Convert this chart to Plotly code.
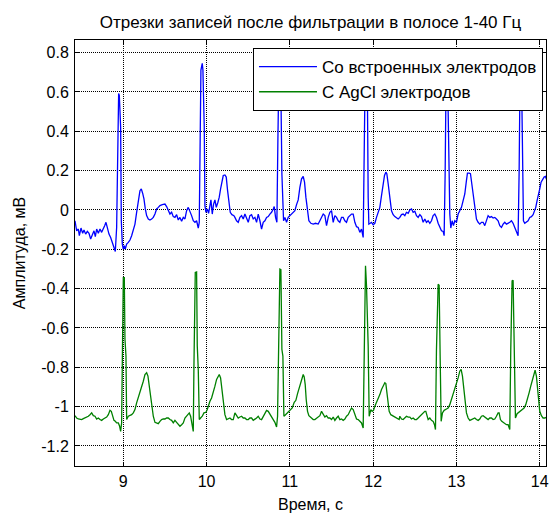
import plotly.graph_objects as go

# ---- data ----
time_blue = [
    8.42, 8.44, 8.46, 8.472, 8.492, 8.512, 8.528, 8.548, 8.568, 8.588, 8.608, 8.628, 8.648, 8.664, 8.68, 8.70,
    8.72, 8.74, 8.76, 8.776, 8.792, 8.808, 8.828, 8.848, 8.868, 8.888, 8.904, 8.92, 8.932, 8.944, 8.952, 8.96,
    8.968, 8.976, 8.988, 9.00, 9.012, 9.024, 9.04, 9.06, 9.08, 9.10, 9.12, 9.14, 9.16, 9.176, 9.188, 9.20,
    9.216, 9.232, 9.248, 9.264, 9.28, 9.30, 9.32, 9.34, 9.36, 9.38, 9.40, 9.42, 9.44, 9.468, 9.50, 9.52,
    9.54, 9.56, 9.58, 9.60, 9.62, 9.64, 9.66, 9.68, 9.70, 9.72, 9.74, 9.76, 9.78, 9.80, 9.82, 9.84,
    9.86, 9.88, 9.90, 9.912, 9.92, 9.932, 9.948, 9.956, 9.964, 9.972, 9.98, 9.992, 10.008, 10.024, 10.04, 10.052,
    10.068, 10.084, 10.10, 10.116, 10.136, 10.152, 10.168, 10.184, 10.20, 10.22, 10.236, 10.252, 10.268, 10.284, 10.304, 10.328,
    # beat 3
    10.34, 10.36, 10.38, 10.40, 10.42, 10.44, 10.46, 10.48, 10.50, 10.52, 10.54, 10.56, 10.58, 10.60, 10.62, 10.64,
    10.66, 10.68, 10.70, 10.72, 10.74, 10.76, 10.78, 10.80, 10.812, 10.828, 10.844, 10.856, 10.868, 10.884, 10.892, 10.904,
    10.916, 10.924, 10.94, 10.96, 10.98, 11.00, 11.02, 11.04, 11.06, 11.08, 11.10, 11.12, 11.14, 11.16, 11.176, 11.192,
    11.208, 11.228, 11.252, 11.28, 11.308, 11.34, 11.36, 11.38, 11.40, 11.42, 11.44, 11.46, 11.48, 11.50, 11.52, 11.54,
    11.56, 11.58, 11.60, 11.62, 11.64, 11.66, 11.68, 11.70, 11.72, 11.74, 11.76, 11.78, 11.80, 11.82, 11.84, 11.86,
    11.88, 11.892, 11.904, 11.92, 11.932, 11.94, 11.948, 11.964, 11.98, 12.00, 12.02, 12.04, 12.06, 12.08, 12.10, 12.12,
    12.136, 12.152, 12.164, 12.18, 12.20, 12.22, 12.24, 12.26, 12.30,
    # beat 5
    12.32, 12.34, 12.36, 12.38, 12.40, 12.42, 12.44, 12.46, 12.48, 12.50, 12.52, 12.54, 12.56, 12.58, 12.60, 12.62,
    12.64, 12.66, 12.68, 12.70, 12.72, 12.74, 12.76, 12.78, 12.80, 12.82, 12.84, 12.852, 12.864, 12.876, 12.892, 12.904,
    12.92, 12.932, 12.948, 12.964, 12.98, 13.00, 13.02, 13.04, 13.06, 13.08, 13.10, 13.12, 13.132, 13.152, 13.168, 13.184,
    13.20, 13.22, 13.24, 13.26, 13.28, 13.30, 13.32, 13.34, 13.36, 13.38, 13.40, 13.42, 13.44, 13.46, 13.48, 13.50,
    13.52, 13.54, 13.56, 13.58, 13.60, 13.62, 13.64, 13.66, 13.68, 13.70, 13.72, 13.74, 13.752, 13.764, 13.78, 13.792,
    13.804, 13.82, 13.84, 13.86, 13.88, 13.90, 13.92, 13.94, 13.952, 13.968, 13.984, 14.00, 14.016, 14.032, 14.052, 14.068,
    14.084, 14.096, 14.104,
]
amp_blue = [
    -0.055, -0.106, -0.097, -0.131, -0.092, -0.119, -0.102, -0.123, -0.109, -0.119, -0.148, -0.123, -0.106, -0.136, -0.097, -0.119,
    -0.097, -0.114, -0.089, -0.080, -0.063, -0.097, -0.123, -0.140, -0.165, -0.182, -0.211, -0.089, 0.439, 0.592, 0.583, 0.456,
    0.422, -0.055, -0.174, -0.199, -0.182, -0.199, -0.174, -0.165, -0.153, -0.131, -0.106, -0.072, -0.012, 0.022, 0.065, 0.098,
    0.107, 0.085, 0.056, 0.005, -0.029, -0.046, -0.051, -0.046, -0.038, -0.021, 0.005, 0.013, 0.022, 0.027, 0.030, 0.017,
    -0.004, -0.021, -0.012, -0.034, -0.038, -0.024, -0.051, -0.038, -0.058, -0.038, -0.046, -0.004, 0.013, -0.004, -0.029, -0.055,
    -0.063, -0.055, -0.092, -0.063, 0.184, 0.711, 0.745, 0.711, 0.558, 0.422, 0.022, -0.012, 0.005, -0.017, 0.022, 0.051,
    -0.021, 0.030, 0.051, 0.013, 0.039, 0.065, 0.107, 0.150, 0.175, 0.178, 0.167, 0.098, 0.022, -0.012, -0.024, -0.029,
    # beat 3
    -0.038, -0.055, -0.063, -0.038, -0.029, -0.046, -0.021, -0.038, -0.063, -0.029, -0.024, -0.046, -0.038, -0.063, -0.021, -0.055,
    -0.097, -0.063, -0.055, -0.038, -0.034, -0.021, -0.012, 0.005, 0.017, -0.038, -0.063, 0.354, 0.70, 0.71, 0.60, 0.184,
    0.013, -0.055, -0.038, -0.063, -0.038, -0.029, -0.021, -0.012, -0.004, 0.027, 0.051, 0.115, 0.158, 0.170, 0.141, 0.065,
    -0.004, -0.055, -0.068, -0.072, -0.068, -0.072, -0.055, -0.034, -0.021, -0.029, -0.080, -0.038, -0.012, -0.004, -0.063, -0.029,
    -0.038, -0.055, -0.063, -0.038, -0.038, -0.055, -0.063, -0.038, -0.029, -0.021, -0.021, -0.063, -0.085, -0.089, -0.114, -0.097,
    -0.140, 0.184, 0.70, 0.72, 0.52, 0.065, -0.072, -0.068, -0.063, -0.075, -0.068, -0.038, -0.012, 0.013, 0.073, 0.133,
    0.175, 0.192, 0.184, 0.133, 0.065, -0.004, -0.024, -0.034, -0.046,
    # beat 5
    -0.038, -0.024, -0.021, -0.029, -0.012, -0.017, 0.000, 0.005, -0.012, -0.007, -0.029, -0.038, -0.024, -0.034, -0.063, -0.046,
    -0.063, -0.055, -0.068, -0.055, -0.029, -0.021, -0.038, -0.068, -0.089, -0.106, -0.109, -0.131, 0.184, 0.70, 0.72, 0.354,
    -0.021, -0.092, -0.055, -0.080, -0.055, -0.063, -0.021, -0.004, 0.013, 0.047, 0.081, 0.150, 0.187, 0.187, 0.184, 0.133,
    0.073, 0.013, -0.046, -0.063, -0.072, -0.063, -0.063, -0.080, -0.055, -0.029, -0.038, -0.034, -0.041, -0.038, -0.046, -0.055,
    -0.080, -0.089, -0.072, -0.063, -0.072, -0.068, -0.063, -0.055, -0.068, -0.089, -0.106, -0.131, 0.184, 0.70, 0.72, 0.354,
    -0.055, -0.068, -0.063, -0.055, -0.038, -0.034, -0.024, -0.004, 0.013, 0.047, 0.073, 0.107, 0.141, 0.153, 0.167, 0.170,
    0.153, 0.098, 0.030,
]

time_green = [
    8.42, 8.44, 8.46, 8.48, 8.50, 8.52, 8.54, 8.56, 8.58, 8.60, 8.62, 8.64, 8.66, 8.68, 8.70, 8.72,
    8.74, 8.76, 8.78, 8.80, 8.82, 8.84, 8.856, 8.872, 8.888, 8.904, 8.92, 8.94, 8.956, 8.968, 8.98, 8.988,
    9.00, 9.012, 9.02, 9.032, 9.04, 9.06, 9.08, 9.10, 9.12, 9.14, 9.16, 9.18, 9.20, 9.22, 9.24, 9.26,
    9.28, 9.296, 9.312, 9.328, 9.344, 9.36, 9.38, 9.40, 9.42, 9.44, 9.46, 9.48, 9.50, 9.52, 9.54, 9.56,
    9.58, 9.60, 9.62, 9.64, 9.66, 9.68, 9.70, 9.72, 9.74, 9.76, 9.78, 9.792, 9.808, 9.82, 9.832, 9.84,
    9.848, 9.864, 9.88, 9.888, 9.90, 9.912, 9.928, 9.948, 9.968, 9.992, 10.008, 10.024, 10.04, 10.06, 10.08, 10.10,
    10.12, 10.14, 10.152, 10.168, 10.184, 10.20, 10.22, 10.24, 10.26, 10.28, 10.30, 10.32,
    # beats 3-4
    10.34, 10.36, 10.38, 10.40, 10.42, 10.44, 10.46, 10.48, 10.50, 10.52, 10.54, 10.56, 10.58, 10.60, 10.62, 10.64,
    10.66, 10.68, 10.70, 10.72, 10.74, 10.76, 10.78, 10.80, 10.82, 10.84, 10.852, 10.868, 10.88, 10.892, 10.904, 10.916,
    10.928, 10.948, 10.968, 10.988, 11.008, 11.028, 11.052, 11.072, 11.092, 11.112, 11.132, 11.148, 11.16, 11.172, 11.184, 11.196,
    11.212, 11.228, 11.244, 11.26, 11.28, 11.30, 11.32, 11.34, 11.36, 11.38, 11.40, 11.42, 11.44, 11.46, 11.48, 11.50,
    11.52, 11.54, 11.56, 11.58, 11.60, 11.62, 11.64, 11.66, 11.68, 11.70, 11.72, 11.74, 11.76, 11.78, 11.80, 11.82,
    11.84, 11.86, 11.88, 11.892, 11.908, 11.92, 11.94, 11.952, 11.972, 11.988, 12.004, 12.02, 12.04, 12.06, 12.08, 12.10,
    12.12, 12.14, 12.152, 12.164, 12.18, 12.192, 12.212, 12.232, 12.252, 12.272, 12.292, 12.312,
    # beats 5-6
    12.32, 12.34, 12.36, 12.38, 12.40, 12.42, 12.44, 12.46, 12.48, 12.50, 12.52, 12.54, 12.56, 12.58, 12.60, 12.62,
    12.632, 12.648, 12.66, 12.68, 12.70, 12.72, 12.736, 12.748, 12.76, 12.78, 12.792, 12.804, 12.816, 12.832, 12.852, 12.88,
    12.90, 12.92, 12.94, 12.96, 12.98, 13.00, 13.02, 13.04, 13.056, 13.072, 13.088, 13.104, 13.12, 13.14, 13.16, 13.18,
    13.20, 13.22, 13.24, 13.26, 13.28, 13.30, 13.32, 13.34, 13.36, 13.38, 13.40, 13.42, 13.44, 13.46, 13.48, 13.50,
    13.512, 13.528, 13.544, 13.56, 13.58, 13.60, 13.62, 13.64, 13.652, 13.668, 13.68, 13.696, 13.708, 13.728, 13.748, 13.768,
    13.792, 13.812, 13.832, 13.852, 13.872, 13.892, 13.912, 13.928, 13.944, 13.96, 13.972, 13.984, 14.00, 14.02, 14.04, 14.06,
    14.08, 14.104,
]
amp_green = [
    -1.046, -1.058, -1.063, -1.066, -1.066, -1.061, -1.058, -1.053, -1.049, -1.041, -1.032, -1.046, -1.049, -1.063, -1.058, -1.066,
    -1.070, -1.063, -1.058, -1.053, -1.041, -1.019, -1.024, -1.049, -1.070, -1.075, -1.083, -1.083, -1.100, -1.126, -1.083, -0.777,
    -0.344, -0.344, -0.658, -0.743, -1.066, -1.049, -1.046, -1.041, -1.032, -1.015, -0.981, -0.956, -0.922, -0.896, -0.871, -0.837,
    -0.828, -0.845, -0.896, -0.956, -1.007, -1.049, -1.080, -1.083, -1.087, -1.075, -1.066, -1.063, -1.063, -1.058, -1.058, -1.066,
    -1.070, -1.083, -1.070, -1.080, -1.092, -1.100, -1.092, -1.083, -1.058, -1.046, -1.036, -1.032, -1.049, -1.083, -1.092, -1.126,
    -0.794, -0.318, -0.315, -0.692, -0.811, -1.066, -1.058, -1.049, -1.032, -1.029, -1.015, -0.990, -0.973, -0.956, -0.930, -0.896,
    -0.862, -0.842, -0.837, -0.854, -0.913, -0.998, -1.041, -1.066, -1.063, -1.058, -1.066, -1.066,
    # beats 3-4
    -1.032, -1.046, -1.058, -1.053, -1.049, -1.058, -1.058, -1.066, -1.066, -1.058, -1.058, -1.070, -1.066, -1.058, -1.049, -1.063,
    -1.066, -1.049, -1.032, -1.019, -1.024, -1.036, -1.049, -1.066, -1.080, -1.104, -1.049, -0.675, -0.301, -0.304, -0.709, -0.743,
    -1.049, -1.041, -1.032, -1.024, -1.019, -1.007, -0.978, -0.968, -0.934, -0.905, -0.871, -0.845, -0.837, -0.849, -0.888, -0.964,
    -1.024, -1.046, -1.053, -1.058, -1.066, -1.066, -1.058, -1.049, -1.046, -1.024, -1.041, -1.053, -1.046, -1.058, -1.058, -1.066,
    -1.053, -1.070, -1.058, -1.049, -1.066, -1.063, -1.070, -1.063, -1.049, -1.041, -1.024, -1.007, -1.015, -1.041, -1.063, -1.066,
    -1.075, -1.083, -1.109, -0.743, -0.284, -0.386, -0.692, -1.049, -1.015, -1.024, -1.019, -0.998, -0.981, -0.964, -0.939, -0.913,
    -0.896, -0.879, -0.883, -0.922, -0.990, -1.024, -1.041, -1.046, -1.053, -1.058, -1.063, -1.066,
    # beats 5-6
    -1.049, -1.063, -1.066, -1.058, -1.049, -1.053, -1.053, -1.063, -1.058, -1.066, -1.066, -1.058, -1.049, -1.041, -1.032, -1.024,
    -1.024, -1.049, -1.066, -1.058, -1.070, -1.075, -1.092, -1.117, -0.709, -0.378, -0.383, -0.743, -1.075, -1.032, -1.019, -1.012,
    -1.007, -0.990, -0.964, -0.939, -0.913, -0.888, -0.854, -0.820, -0.811, -0.845, -0.905, -0.973, -1.032, -1.058, -1.070, -1.066,
    -1.063, -1.058, -1.066, -1.070, -1.063, -1.049, -1.046, -1.053, -1.058, -1.066, -1.058, -1.058, -1.066, -1.063, -1.049, -1.032,
    -1.032, -1.066, -1.075, -1.080, -1.083, -1.092, -1.092, -1.117, -0.709, -0.361, -0.357, -0.726, -1.058, -1.036, -1.029, -1.019,
    -1.012, -1.007, -0.990, -0.964, -0.930, -0.896, -0.866, -0.828, -0.815, -0.845, -0.896, -0.956, -1.024, -1.046, -1.058, -1.058,
    -1.053, -1.049,
]

x_tick_vals = [9, 10, 11, 12, 13, 14]
x_tick_text = ["9", "10", "11", "12", "13", "14"]
y_tick_vals = [0.8, 0.6, 0.4, 0.2, 0, -0.2, -0.4, -0.6, -0.8, -1.0, -1.2]
y_tick_text = ["0.8", "0.6", "0.4", "0.2", "0", "-0.2", "-0.4", "-0.6", "-0.8", "-1", "-1.2"]

series_names = ["Со встроенных электродов", "С AgCl электродов"]
title_text = "Отрезки записей после фильтрации в полосе 1-40 Гц"
x_title = "Время, с"
y_title = "Амплитуда, мВ"

FONT = "Liberation Sans, Arial, sans-serif"

fig = go.Figure()
fig.add_trace(go.Scatter(x=time_blue, y=amp_blue, mode="lines", name=series_names[0],
                         line=dict(color="#0000FF", width=1.3)))
fig.add_trace(go.Scatter(x=time_green, y=amp_green, mode="lines", name=series_names[1],
                         line=dict(color="#008000", width=1.3)))

axis_common = dict(
    showline=True, linecolor="black", linewidth=1, mirror="ticks",
    ticks="inside", ticklen=4, tickcolor="black", automargin=False,
    showgrid=True, gridcolor="black", gridwidth=1, griddash="1px,1px",
    zeroline=False, tickfont=dict(family=FONT, size=16, color="black"),
)

fig.update_layout(
    width=549, height=513,
    margin=dict(l=75, r=3, t=40, b=47, autoexpand=False),
    paper_bgcolor="white", plot_bgcolor="white",
    font=dict(family=FONT, size=16, color="black"),
    title=dict(text=title_text, x=0.5, xanchor="center", xref="paper",
               y=1 - 22 / 513, yref="container", yanchor="middle",
               font=dict(family=FONT, size=17, color="black")),
    xaxis=dict(range=[8.42, 14.075], tickvals=x_tick_vals, ticktext=x_tick_text,
               ticklabelstandoff=1,
               title=dict(text=x_title, standoff=9, font=dict(family=FONT, size=16)), **axis_common),
    yaxis=dict(range=[-1.302, 0.864], tickvals=y_tick_vals, ticktext=y_tick_text,
               ticklabelstandoff=2,
               title=dict(text=y_title, standoff=11, font=dict(family=FONT, size=16)), **axis_common),
    showlegend=True,
    legend=dict(x=0.9936, y=0.981, xanchor="right", yanchor="top",
                bgcolor="white", bordercolor="black", borderwidth=1,
                font=dict(family=FONT, size=17, color="black"),
                itemwidth=58),
)

fig.write_html("out.html", config={"displayModeBar": False},
               post_script="document.body.style.margin='0';document.body.style.padding='0';")
